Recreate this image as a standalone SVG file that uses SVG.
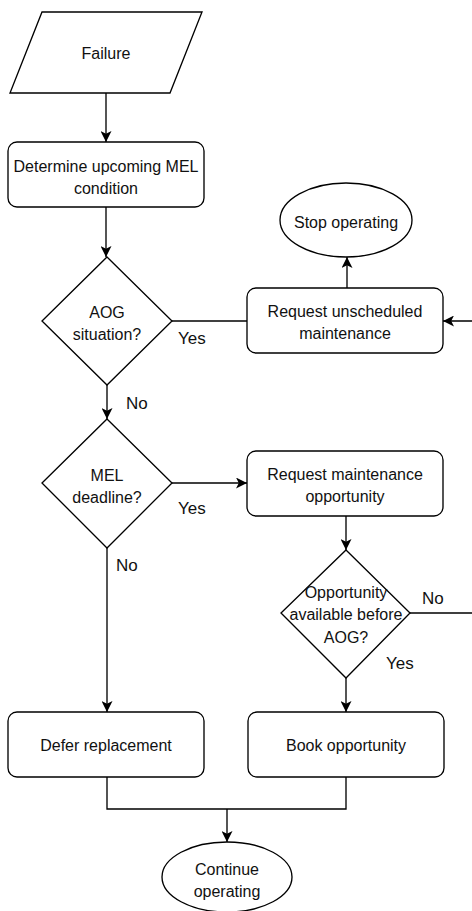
<svg xmlns="http://www.w3.org/2000/svg" width="472" height="911" viewBox="0 0 472 911">
  <style>
    .shape { fill: #ffffff; stroke: #000000; stroke-width: 1.33; }
    .edge { fill: none; stroke: #000000; stroke-width: 1.33; }
    .label { font-family: "Liberation Sans", Arial, Helvetica, sans-serif; font-size: 16px; fill: #111111; text-anchor: middle; dominant-baseline: central; }
    .tag { font-family: "Liberation Sans", Arial, Helvetica, sans-serif; font-size: 17px; fill: #111111; dominant-baseline: central; }
  </style>
  <defs>
    <marker id="arrow" viewBox="0 0 11 11" refX="11" refY="5.5" markerWidth="11" markerHeight="11" markerUnits="userSpaceOnUse" orient="auto">
      <path d="M0,0 L11,5.5 L0,11 L2.8,5.5 Z" fill="#000000"/>
    </marker>
  </defs>

  <rect width="472" height="911" fill="#ffffff"/>

  <!-- connectors -->
  <g id="connectors">
    <path class="edge" d="M106,93 V142" marker-end="url(#arrow)"/>
    <path class="edge" d="M106,207 V257" marker-end="url(#arrow)"/>
    <path class="edge" d="M172,321 H247"/>
    <path class="edge" d="M347,288 V257" marker-end="url(#arrow)"/>
    <path class="edge" d="M107,385 V419" marker-end="url(#arrow)"/>
    <path class="edge" d="M172,483 H247" marker-end="url(#arrow)"/>
    <path class="edge" d="M346,516 V550" marker-end="url(#arrow)"/>
    <path class="edge" d="M410,613 H490 V321 H443" marker-end="url(#arrow)"/>
    <path class="edge" d="M107,548 V712" marker-end="url(#arrow)"/>
    <path class="edge" d="M346,678 V712" marker-end="url(#arrow)"/>
    <path class="edge" d="M107,777 V809 H346 V777"/>
    <path class="edge" d="M227,809 V842" marker-end="url(#arrow)"/>
    <text class="tag" x="178" y="338">Yes</text>
    <text class="tag" x="126" y="403">No</text>
    <text class="tag" x="178" y="508">Yes</text>
    <text class="tag" x="116" y="565">No</text>
    <text class="tag" x="422" y="598">No</text>
    <text class="tag" x="386" y="663">Yes</text>
  </g>

  <g id="failure">
    <polygon class="shape" points="42,12 202,12 170,93 10,93"/>
    <text class="label" x="106" y="53">Failure</text>
  </g>

  <g id="determine-mel">
    <rect class="shape" x="8" y="142" width="196" height="65" rx="9"/>
    <text class="label" x="106" y="166">Determine upcoming MEL</text>
    <text class="label" x="106" y="188">condition</text>
  </g>

  <g id="aog-decision">
    <polygon class="shape" points="107,257 172,321 107,385 42,321"/>
    <text class="label" x="107" y="312">AOG</text>
    <text class="label" x="107" y="334">situation?</text>
  </g>

  <g id="stop-operating">
    <ellipse class="shape" cx="346" cy="220" rx="66" ry="37"/>
    <text class="label" x="346" y="222">Stop operating</text>
  </g>

  <g id="request-unscheduled">
    <rect class="shape" x="247" y="288" width="196" height="65" rx="9"/>
    <text class="label" x="345" y="311">Request unscheduled</text>
    <text class="label" x="345" y="333">maintenance</text>
  </g>

  <g id="mel-decision">
    <polygon class="shape" points="107,419 172,483 107,548 42,483"/>
    <text class="label" x="107" y="475">MEL</text>
    <text class="label" x="107" y="497">deadline?</text>
  </g>

  <g id="request-opportunity">
    <rect class="shape" x="247" y="451" width="196" height="65" rx="9"/>
    <text class="label" x="345" y="474">Request maintenance</text>
    <text class="label" x="345" y="496">opportunity</text>
  </g>

  <g id="opportunity-decision">
    <polygon class="shape" points="346,550 410,613 346,678 281,613"/>
    <text class="label" x="346" y="592">Opportunity</text>
    <text class="label" x="346" y="614">available before</text>
    <text class="label" x="346" y="637">AOG?</text>
  </g>

  <g id="defer-replacement">
    <rect class="shape" x="8" y="712" width="196" height="65" rx="9"/>
    <text class="label" x="106" y="745">Defer replacement</text>
  </g>

  <g id="book-opportunity">
    <rect class="shape" x="248" y="712" width="196" height="65" rx="9"/>
    <text class="label" x="346" y="745">Book opportunity</text>
  </g>

  <g id="continue-operating">
    <ellipse class="shape" cx="227" cy="877" rx="65" ry="35"/>
    <text class="label" x="227" y="869">Continue</text>
    <text class="label" x="227" y="891">operating</text>
  </g>
</svg>
